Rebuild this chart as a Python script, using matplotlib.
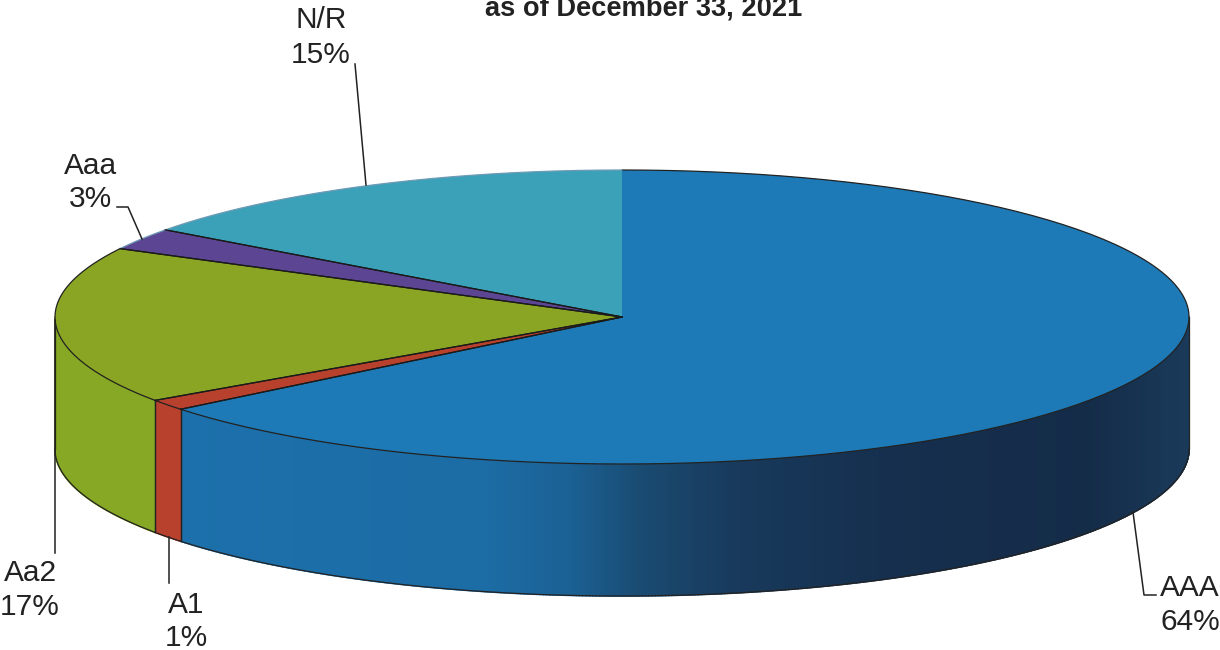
import numpy as np
import matplotlib
matplotlib.use('Agg')
import matplotlib.pyplot as plt
from matplotlib.collections import PolyCollection
from matplotlib.colors import LinearSegmentedColormap, to_rgb
from matplotlib.patches import Polygon

plt.rcParams['font.family'] = ['Liberation Sans', 'DejaVu Sans']

# data, clockwise from 12 o'clock
ratings = ['AAA', 'A1', 'Aa2', 'Aaa', 'N/R']
# slice sizes as measured on the picture, the printed labels are rounded
shares = [64.2, 1.2, 17.3, 2.4, 14.9]
share_labels = ['64%', '1%', '17%', '3%', '15%']
title = 'as of December 33, 2021'

top_colors = ['#1d7ab6', '#b8412e', '#8aa524', '#5c4694', '#3aa1b8']
side_colors = ['#1b72ad', '#b8412e', '#86a824', '#5c4694', '#3aa1b8']

# pie geometry in picture pixels
cx, cy = 622, 317
rx, ry = 567, 147
depth = 132

# shading of the AAA wall, left to right
wall_x = [0.0, 0.30, 0.38, 0.46, 0.55, 0.70, 0.90, 1.0]
wall_c = ['#1c70ab', '#1c6ca5', '#1b6296', '#1a4a70', '#183a5c', '#162f4e', '#142c48', '#1a3a5a']
wall_cmap = LinearSegmentedColormap.from_list('wall', list(zip(wall_x, wall_c)))


def rim(t):
    # t is degrees clockwise from the top
    a = np.radians(t)
    return cx + rx * np.sin(a), cy - ry * np.cos(a)


fig = plt.figure(figsize=(12.2, 6.5), dpi=100)
ax = fig.add_axes([0, 0, 1, 1])
ax.set_xlim(0, 1220)
ax.set_ylim(650, 0)
ax.axis('off')

edges = np.concatenate([[0], np.cumsum(shares) / sum(shares) * 360])

# side walls: only the front half of the rim shows
for i, name in enumerate(ratings):
    lo, hi = max(edges[i], 90), min(edges[i + 1], 270)
    if hi <= lo:
        continue
    t = np.linspace(lo, hi, max(int((hi - lo) * 3), 3))
    x, y = rim(t)
    quads = []
    cols = []
    for j in range(len(t) - 1):
        quads.append([(x[j], y[j]), (x[j + 1], y[j + 1]),
                      (x[j + 1], y[j + 1] + depth), (x[j], y[j] + depth)])
        if name == 'AAA':
            cols.append(wall_cmap(((x[j] + x[j + 1]) / 2 - 180) / (1189 - 180)))
        else:
            cols.append(to_rgb(side_colors[i]))
    ax.add_collection(PolyCollection(quads, facecolors=cols, edgecolors=cols,
                                     linewidths=1.2, zorder=2))
    # outline of the wall
    ax.plot(x, y + depth, color='#222222', lw=0.9, zorder=3)
    ax.plot([x[0], x[0]], [y[0], y[0] + depth], color='#222222', lw=0.9, zorder=3)
    ax.plot([x[-1], x[-1]], [y[-1], y[-1] + depth], color='#222222', lw=0.9, zorder=3)

# top face
for i, name in enumerate(ratings):
    t = np.linspace(edges[i], edges[i + 1], 200)
    x, y = rim(t)
    pts = np.column_stack([np.r_[cx, x], np.r_[cy, y]])
    ax.add_patch(Polygon(pts, closed=True, facecolor=top_colors[i], edgecolor='none', zorder=4))
    ax.plot(x, y, color='#222222' if name in ('AAA', 'A1', 'Aa2') else '#6f9ab5', lw=0.9, zorder=5)
    for e in (edges[i], edges[i + 1]):
        ex, ey = rim(e)
        if e % 360 != 0 and round(e, 3) != 360:
            ax.plot([cx, ex], [cy, ey], color='#1a1a1a', lw=0.9, zorder=5)

# leader lines
leader_col = '#222222'
ax.plot([355, 366], [64, 185], color=leader_col, lw=1.1, zorder=6)
ax.plot([117, 128, 142], [207, 207, 239], color=leader_col, lw=1.1, zorder=6)
ax.plot([55, 55], [320, 553], color=leader_col, lw=1.1, zorder=6)
ax.plot([169, 169], [537, 583], color=leader_col, lw=1.1, zorder=6)
ax.plot([1133, 1144, 1156], [512, 595, 595], color=leader_col, lw=1.1, zorder=6)

# labels
label_font = dict(fontsize=21.5, color='#222222', ha='center', va='center', zorder=7)
label_pos = [(1190, 588, 622), (186, 605, 638), (30, 573, 607), (90, 166, 199), (321, 20, 55)]
for name, share, (lx, y1, y2) in zip(ratings, share_labels, label_pos):
    ax.text(lx, y1, name, **label_font)
    ax.text(lx, y2, share, **label_font)

# the top of the title is cut off by the page edge in the scan too
ax.text(644, 16, title, fontsize=19.6, fontweight='bold', color='#222222',
        ha='center', va='baseline', zorder=7)

fig.savefig('out.png', dpi=100, facecolor='white')
